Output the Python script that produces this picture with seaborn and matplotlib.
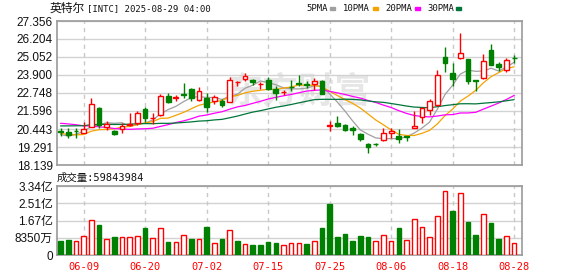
import numpy as np
import pandas as pd
import matplotlib
matplotlib.use("Agg")
import matplotlib.pyplot as plt
import seaborn as sns
from matplotlib.patches import Rectangle

# ---------------- data ----------------
dates = ["06-04", "06-05", "06-06", "06-09", "06-10", "06-11", "06-12", "06-13", "06-16", "06-17",
         "06-18", "06-20", "06-23", "06-24", "06-25", "06-26", "06-27", "06-30", "07-01", "07-02",
         "07-03", "07-07", "07-08", "07-09", "07-10", "07-11", "07-14", "07-15", "07-16", "07-17",
         "07-18", "07-21", "07-22", "07-23", "07-24", "07-25", "07-28", "07-29", "07-30", "07-31",
         "08-01", "08-04", "08-05", "08-06", "08-07", "08-08", "08-11", "08-12", "08-13", "08-14",
         "08-15", "08-18", "08-19", "08-20", "08-21", "08-22", "08-25", "08-26", "08-27", "08-28"]
opens = [20.30, 20.27, 20.32, 20.21, 20.55, 21.81, 20.55, 20.34, 20.45, 20.72,
         20.81, 21.70, 21.12, 21.35, 22.53, 22.45, 22.66, 22.98, 22.33, 22.44,
         22.24, 22.24, 22.20, 23.42, 23.64, 23.59, 23.32, 23.59, 23.03, 22.78,
         23.16, 23.37, 23.31, 23.33, 23.53, 20.66, 20.82, 20.71, 20.48, 20.14,
         19.50, 19.50, 19.74, 20.17, 20.00, 19.97, 20.49, 21.23, 21.66, 21.98,
         25.03, 24.04, 24.99, 24.92, 23.56, 23.71, 25.48, 24.60, 24.24, 25.01]
highs = [20.49, 20.49, 20.49, 20.91, 22.41, 21.87, 20.95, 20.37, 20.81, 21.47,
         21.62, 21.87, 21.47, 22.68, 22.72, 22.62, 23.37, 23.05, 23.11, 22.75,
         22.63, 22.36, 23.75, 23.54, 24.04, 23.67, 23.48, 23.80, 23.17, 22.94,
         23.59, 23.89, 23.51, 23.68, 23.60, 20.98, 21.29, 20.79, 20.66, 20.20,
         19.56, 19.57, 20.49, 20.49, 20.45, 20.00, 21.62, 21.87, 22.34, 24.22,
         25.71, 24.67, 26.59, 24.92, 23.60, 25.24, 25.88, 24.73, 24.99, 25.16]
lows = [20.00, 19.85, 19.89, 20.17, 20.55, 20.52, 20.41, 20.06, 20.21, 20.62,
        20.70, 20.91, 20.77, 21.28, 22.10, 22.26, 22.42, 22.26, 22.26, 21.56,
        22.02, 21.85, 22.15, 23.18, 23.51, 23.28, 23.00, 22.95, 22.29, 22.61,
        22.87, 23.17, 23.06, 22.97, 22.67, 20.32, 20.60, 20.32, 20.07, 19.70,
        18.92, 19.36, 19.70, 19.85, 19.57, 19.66, 20.49, 20.81, 21.34, 21.92,
        24.11, 23.19, 24.95, 23.35, 22.86, 23.67, 24.52, 24.14, 24.09, 24.67]
closes = [20.27, 20.06, 20.30, 20.45, 22.02, 20.70, 20.75, 20.13, 20.63, 20.76,
          21.45, 21.13, 21.15, 22.55, 22.16, 22.47, 22.64, 22.45, 22.87, 21.88,
          22.49, 21.97, 23.56, 23.43, 23.82, 23.45, 23.33, 23.03, 22.77, 22.80,
          23.14, 23.30, 23.28, 23.53, 22.67, 20.70, 20.65, 20.39, 20.36, 19.81,
          19.32, 19.48, 20.17, 20.34, 19.81, 19.95, 20.64, 21.77, 22.26, 23.90,
          24.65, 23.67, 25.31, 23.54, 23.50, 24.77, 24.56, 24.39, 24.84, 24.99]
# volume in millions of shares
volumes_m = [70, 73, 68, 93, 171, 147, 78, 88, 86, 86,
             93, 132, 81, 130, 64, 64, 96, 78, 77, 137,
             59, 78, 122, 68, 54, 49, 49, 65, 59, 48,
             57, 57, 54, 68, 132, 249, 88, 103, 68, 93,
             88, 68, 96, 68, 132, 73, 174, 135, 86, 189,
             311, 215, 301, 161, 98, 199, 156, 78, 91, 59.843984]
# closes of the 29 sessions before 06-04 (needed for the moving averages)
prior_closes = [20.0, 20.1, 20.3, 20.0, 20.2, 20.6, 20.4, 20.5, 20.4, 20.5,
                20.9, 21.3, 21.9, 22.2, 21.8, 21.6, 21.4, 21.3, 21.2, 20.9,
                20.9, 20.5, 20.2, 19.9, 19.75, 20.56, 19.72, 19.55, 20.35]
ma_windows = [5, 10, 20, 30]
ma_labels = ["5PMA", "10PMA", "20PMA", "30PMA"]
ma_colors = ["#a0a0a0", "#f5a300", "#ff00ff", "#00763a"]
price_ticks = [18.139, 19.291, 20.443, 21.596, 22.748, 23.900, 25.052, 26.204, 27.356]
price_tick_labels = ["18.139", "19.291", "20.443", "21.596", "22.748", "23.900", "25.052", "26.204", "27.356"]
vol_ticks_m = [0, 83.5, 167, 251, 334]
vol_tick_labels = ["0", "8350万", "1.67亿", "2.51亿", "3.34亿"]
xtick_dates = ["06-09", "06-20", "07-02", "07-15", "07-25", "08-06", "08-18", "08-28"]
title_name = "英特尔"
title_rest = "[INTC] 2025-08-29 04:00"
volume_title = "成交量:59843984"
watermark = "东方财富"

RED = "#ff0000"
GREEN = "#008000"

# ---------------- style ----------------
sns.set_theme(style="white")
plt.rcParams["font.family"] = ["Liberation Sans", "Noto Sans CJK SC", "DejaVu Sans"]
plt.rcParams["axes.unicode_minus"] = False

W, H = 578, 276
fig = plt.figure(figsize=(W / 100, H / 100), dpi=100)
fig.patch.set_facecolor("white")

L, R = 57, 522
ax = fig.add_axes([L / W, 1 - 165 / H, (R - L) / W, (165 - 21) / H])
axv = fig.add_axes([L / W, 1 - 255 / H, (R - L) / W, (255 - 186) / H])

df = pd.DataFrame({"date": dates, "open": opens, "high": highs, "low": lows,
                   "close": closes, "vol": volumes_m})
df["x"] = np.arange(len(df))
up = (df["close"] >= df["open"]).to_numpy()
prev_close = pd.Series(prior_closes[-1:] + closes[:-1])
vol_up = (df["close"] >= prev_close).to_numpy()

# moving averages
all_close = pd.Series(prior_closes + closes)
for w, lab, col in zip(ma_windows, ma_labels, ma_colors):
    ma = all_close.rolling(w).mean().iloc[len(prior_closes):].to_numpy()
    sns.lineplot(x=df["x"], y=ma, ax=ax, color=col, lw=0.9, legend=False, zorder=2)

# candles
ax.vlines(df["x"], df["low"], df["high"], colors=np.where(up, RED, GREEN), lw=1.0, zorder=3)
body_lo = np.minimum(df["open"], df["close"])
body_h = np.maximum(np.abs(df["close"] - df["open"]), 0.005)
ax.bar(df["x"], body_h, bottom=body_lo, width=0.62,
       color=np.where(up, "white", GREEN), edgecolor=np.where(up, RED, GREEN),
       linewidth=1.0, zorder=4)

ax.text(0.52, 0.51, watermark, transform=ax.transAxes, ha="center", va="center",
        fontsize=26, fontweight="bold", color="#e6e6e6", family="Noto Sans CJK SC", zorder=0.5)

# volume
axv.bar(df["x"], df["vol"], width=0.6,
        color=np.where(vol_up, "white", GREEN), edgecolor=np.where(vol_up, RED, GREEN),
        linewidth=1.0, zorder=3)

xlim = (-0.46, 60.02)
idx = [dates.index(d) for d in xtick_dates]
for a in (ax, axv):
    a.set_xlim(*xlim)
    a.set_facecolor("white")
    for s in a.spines.values():
        s.set_color("#9a9a9a")
        s.set_linewidth(1.2)
    for i in idx:
        a.axvline(i, color="#c8c8c8", lw=1.0, ls=(0, (3, 3)), zorder=1)
    a.tick_params(length=0)

ax.set_ylim(price_ticks[0], price_ticks[-1])
ax.set_yticks(price_ticks)
ax.set_yticklabels(price_tick_labels, fontsize=8.5, color="#111111")
ax.tick_params(axis="y", pad=3)
ax.set_xticks([])
ax.yaxis.grid(True, color="#d2d2d2", lw=1.0)
ax.set_axisbelow(True)
ax.set_xlabel("")
ax.set_ylabel("")

axv.set_ylim(0, vol_ticks_m[-1])
axv.set_yticks(vol_ticks_m)
axv.set_yticklabels(vol_tick_labels, fontsize=8.5, color="#111111")
axv.tick_params(axis="y", pad=3)
axv.yaxis.grid(True, color="#d2d2d2", lw=1.0)
axv.set_axisbelow(True)
axv.set_xticks(idx)
axv.set_xticklabels(xtick_dates, fontsize=7.5, color=RED, family="DejaVu Sans Mono")
axv.tick_params(axis="x", pad=5)

# header texts
fig.text(50 / W, 1 - 8.5 / H, title_name, family="Noto Sans CJK SC", fontsize=8.5,
         va="center", ha="left", color="#111111")
fig.text(87 / W, 1 - 8.5 / H, title_rest, family="DejaVu Sans Mono", fontsize=6.4,
         va="center", ha="left", color="#111111")
leg_text_x = [306, 343, 385, 427]
leg_box_x = [330, 373, 415, 456]
for lab, col, tx, bx in zip(ma_labels, ma_colors, leg_text_x, leg_box_x):
    fig.text(tx / W, 1 - 8.5 / H, lab, family="DejaVu Sans Mono", fontsize=6.4,
             va="center", ha="left", color="#111111")
    fig.patches.append(Rectangle((bx / W, 1 - 10.2 / H), 5 / W, 3.4 / H,
                                 transform=fig.transFigure, color=col, figure=fig))

fig.text(57 / W, 1 - 178 / H, volume_title, family=["DejaVu Sans Mono", "Noto Sans CJK SC"],
         fontsize=7.5, va="center", ha="left", color="#111111")

fig.savefig("out.png", dpi=100, facecolor="white")
